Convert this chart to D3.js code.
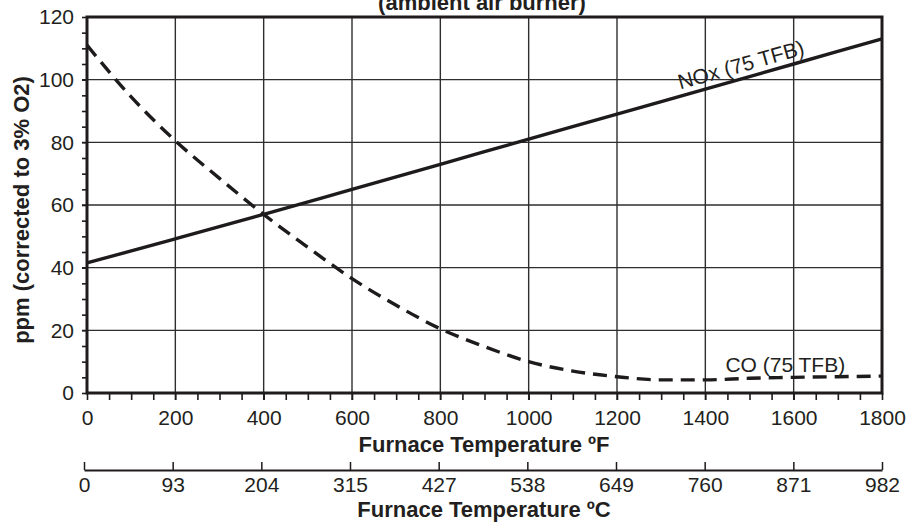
<!DOCTYPE html>
<html>
<head>
<meta charset="utf-8">
<script src="https://cdn.jsdelivr.net/npm/d3@7"></script>
<style>
  body { margin: 0; background: #fff; }
  text { font-family: "Liberation Sans", Arial, sans-serif; fill: #231f20; }
</style>
</head>
<body>
<div class="canvas"></div>
<script>
// data
const noxTemps = [0, 200, 400, 600, 800, 1000, 1200, 1400, 1600, 1800]
const noxPpm = [41.5, 49.2, 57, 65, 73, 81, 89, 97, 105, 113]

const coTemps = [0, 100, 200, 300, 400, 500, 600, 700, 800, 900, 1000, 1100, 1200, 1300, 1400, 1500, 1600, 1700, 1800]
const coPpm = [111, 94.5, 80.5, 68.5, 57, 46.5, 36.5, 28, 20.5, 14.8, 10, 7, 5.2, 4.2, 4.2, 4.7, 5, 5.2, 5.4]

const fTicks = [0, 200, 400, 600, 800, 1000, 1200, 1400, 1600, 1800]
const cLabels = [0, 93, 204, 315, 427, 538, 649, 760, 871, 982]
const yTicks = [0, 20, 40, 60, 80, 100, 120]

const svg = d3.select(".canvas")
    .append("svg")
    .attr("width", 910)
    .attr("height", 523)

// plot box
const plotLeft = 87, plotRight = 882, plotTop = 17, plotBottom = 393

const x = d3.scaleLinear().domain([0, 1800]).range([plotLeft, plotRight])
const xC = d3.scaleLinear().domain([0, 1800]).range([84, 882])
const y = d3.scaleLinear().domain([0, 120]).range([plotBottom, plotTop])

const ink = "#1e1b1c"

// grid lines
svg.append("g")
    .selectAll("line")
    .data(fTicks.slice(1, -1))
    .enter()
    .append("line")
    .attr("x1", d => x(d)).attr("x2", d => x(d))
    .attr("y1", plotTop).attr("y2", plotBottom + 7)
    .attr("stroke", "#2e2e2e")
    .attr("stroke-width", 1.4)

svg.append("g")
    .selectAll("line")
    .data(yTicks.slice(1, -1))
    .enter()
    .append("line")
    .attr("x1", plotLeft - 5).attr("x2", plotRight)
    .attr("y1", d => y(d)).attr("y2", d => y(d))
    .attr("stroke", "#2e2e2e")
    .attr("stroke-width", 1.4)

// minor ticks
const xAxisGroup = svg.append("g").attr("transform", `translate(0, ${plotBottom})`)
xAxisGroup.call(d3.axisBottom(x)
    .tickValues(d3.range(0, 1801, 50))
    .tickSize(7)
    .tickFormat(""))
const yMinor = svg.append("g").attr("transform", `translate(${plotLeft}, 0)`)
yMinor.call(d3.axisLeft(y)
    .tickValues(d3.range(0, 121, 5))
    .tickSize(5)
    .tickFormat(""))
svg.selectAll(".domain").remove()
svg.selectAll(".tick line").attr("stroke", ink).attr("stroke-width", 1.6)

// tick labels
const fLabels = svg.append("g").attr("transform", `translate(0, ${plotBottom})`)
fLabels.call(d3.axisBottom(x).tickValues(fTicks).tickSize(0).tickPadding(17).tickFormat(d3.format("d")))
fLabels.select(".domain").remove()

const yLabels = svg.append("g").attr("transform", `translate(${plotLeft}, 0)`)
yLabels.call(d3.axisLeft(y).tickValues(yTicks).tickSize(0).tickPadding(13).tickFormat(d3.format("d")))
yLabels.select(".domain").remove()

// celsius axis
const cAxis = svg.append("g").attr("transform", "translate(0, 470)")
cAxis.call(d3.axisBottom(xC)
    .tickValues(fTicks)
    .tickSizeInner(-8)
    .tickSizeOuter(0)
    .tickPadding(7)
    .tickFormat((d, i) => cLabels[i]))
cAxis.select(".domain").attr("stroke", ink).attr("stroke-width", 1.8)
cAxis.selectAll(".tick line").attr("stroke", ink).attr("stroke-width", 1.5)

svg.selectAll(".tick text")
    .attr("font-size", 21)
    .attr("font-family", "Liberation Sans, Arial, sans-serif")
    .attr("fill", ink)

// border
svg.append("rect")
    .attr("x", plotLeft).attr("y", plotTop)
    .attr("width", plotRight - plotLeft).attr("height", plotBottom - plotTop)
    .attr("fill", "none")
    .attr("stroke", ink)
    .attr("stroke-width", 3)

// series
const line = d3.line()
    .x(d => x(d[0]))
    .y(d => y(d[1]))
    .curve(d3.curveMonotoneX)

svg.append("path")
    .datum(noxTemps.map((t, i) => [t, noxPpm[i]]))
    .attr("d", line)
    .attr("fill", "none")
    .attr("stroke", ink)
    .attr("stroke-width", 3.4)

svg.append("path")
    .datum(coTemps.map((t, i) => [t, coPpm[i]]))
    .attr("d", line)
    .attr("fill", "none")
    .attr("stroke", ink)
    .attr("stroke-width", 3.4)
    .attr("stroke-dasharray", "14,8")

// series labels
const angle = Math.atan2(y(113) - y(41.5), x(1800) - x(0)) * 180 / Math.PI
svg.append("text")
    .attr("transform", `translate(${x(1485)}, ${y(102.5)}) rotate(${angle})`)
    .attr("text-anchor", "middle")
    .attr("font-size", 21)
    .text("NOx (75 TFB)")

svg.append("text")
    .attr("x", x(1581))
    .attr("y", y(6.8))
    .attr("text-anchor", "middle")
    .attr("font-size", 21)
    .text("CO (75 TFB)")

// titles
svg.append("text")
    .attr("x", 482).attr("y", 10)
    .attr("text-anchor", "middle")
    .attr("font-size", 22)
    .attr("font-weight", "bold")
    .text("(ambient air burner)")

svg.append("text")
    .attr("x", 484).attr("y", 452)
    .attr("text-anchor", "middle")
    .attr("font-size", 22)
    .attr("font-weight", "bold")
    .text("Furnace Temperature ºF")

svg.append("text")
    .attr("x", 484).attr("y", 517)
    .attr("text-anchor", "middle")
    .attr("font-size", 22)
    .attr("font-weight", "bold")
    .text("Furnace Temperature ºC")

svg.append("text")
    .attr("transform", `translate(29, 210) rotate(-90)`)
    .attr("text-anchor", "middle")
    .attr("font-size", 22)
    .attr("font-weight", "bold")
    .text("ppm (corrected to 3% O2)")
</script>
</body>
</html>
